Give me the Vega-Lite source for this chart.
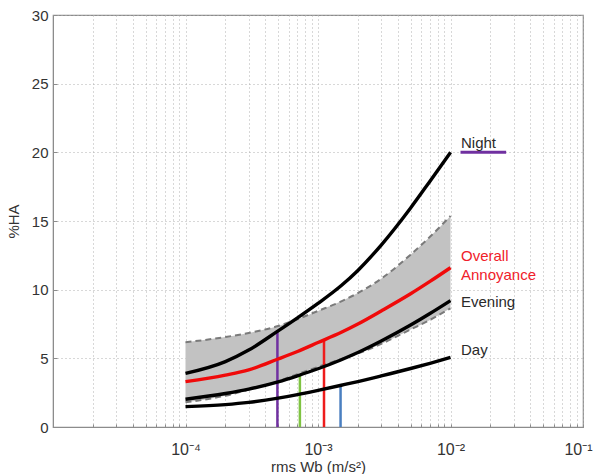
{
  "$schema": "https://vega.github.io/schema/vega-lite/v6.json",
  "autosize": "none",
  "width": 530,
  "height": 412,
  "padding": {"left": 53, "top": 15, "right": 13, "bottom": 47},
  "background": "white",
  "config": {
    "font": "Liberation Sans",
    "view": {"stroke": "#8c8c8c", "strokeWidth": 1.2},
    "axis": {"labelFont": "Liberation Sans", "titleFont": "Liberation Sans", "labelColor": "#333", "titleColor": "#333", "labelFontSize": 15, "titleFontSize": 15, "titleFontWeight": "normal", "domainColor": "#8c8c8c", "tickColor": "#8c8c8c", "gridColor": "#b0b0b0", "gridDash": [1, 3], "gridWidth": 1}
  },
  "datasets": {
    "curves": [
      {"x": 0.0001, "s": "Night", "y": 3.9}, {"x": 0.0002, "s": "Night", "y": 4.76}, {"x": 0.0003, "s": "Night", "y": 5.6}, {"x": 0.0005, "s": "Night", "y": 7.0}, {"x": 0.0007, "s": "Night", "y": 7.95}, {"x": 0.001, "s": "Night", "y": 9.0}, {"x": 0.0015, "s": "Night", "y": 10.3}, {"x": 0.002, "s": "Night", "y": 11.4}, {"x": 0.003, "s": "Night", "y": 13.25}, {"x": 0.005, "s": "Night", "y": 15.95}, {"x": 0.007, "s": "Night", "y": 17.9}, {"x": 0.01, "s": "Night", "y": 20.0},
      {"x": 0.0001, "s": "Evening", "y": 2.02}, {"x": 0.0002, "s": "Evening", "y": 2.44}, {"x": 0.0003, "s": "Evening", "y": 2.76}, {"x": 0.0005, "s": "Evening", "y": 3.29}, {"x": 0.0007, "s": "Evening", "y": 3.73}, {"x": 0.001, "s": "Evening", "y": 4.24}, {"x": 0.0015, "s": "Evening", "y": 4.9}, {"x": 0.002, "s": "Evening", "y": 5.42}, {"x": 0.003, "s": "Evening", "y": 6.26}, {"x": 0.005, "s": "Evening", "y": 7.42}, {"x": 0.007, "s": "Evening", "y": 8.26}, {"x": 0.01, "s": "Evening", "y": 9.2},
      {"x": 0.0001, "s": "Day", "y": 1.48}, {"x": 0.0002, "s": "Day", "y": 1.63}, {"x": 0.0003, "s": "Day", "y": 1.79}, {"x": 0.0005, "s": "Day", "y": 2.1}, {"x": 0.0007, "s": "Day", "y": 2.36}, {"x": 0.001, "s": "Day", "y": 2.67}, {"x": 0.0015, "s": "Day", "y": 3.04}, {"x": 0.002, "s": "Day", "y": 3.31}, {"x": 0.003, "s": "Day", "y": 3.72}, {"x": 0.005, "s": "Day", "y": 4.26}, {"x": 0.007, "s": "Day", "y": 4.64}, {"x": 0.01, "s": "Day", "y": 5.07}
    ],
    "overall": [
      {"x": 0.0001, "y": 3.3}, {"x": 0.0002, "y": 3.78}, {"x": 0.0003, "y": 4.16}, {"x": 0.0005, "y": 4.95}, {"x": 0.0007, "y": 5.5}, {"x": 0.001, "y": 6.15}, {"x": 0.0015, "y": 6.9}, {"x": 0.002, "y": 7.5}, {"x": 0.003, "y": 8.45}, {"x": 0.005, "y": 9.7}, {"x": 0.007, "y": 10.6}, {"x": 0.01, "y": 11.6}
    ],
    "band": [
      {"x": 0.0001, "hi": 6.17, "lo": 1.8}, {"x": 0.0002, "hi": 6.55, "lo": 2.28}, {"x": 0.0003, "hi": 6.85, "lo": 2.72}, {"x": 0.0005, "hi": 7.35, "lo": 3.33}, {"x": 0.0007, "hi": 7.85, "lo": 3.85}, {"x": 0.001, "hi": 8.45, "lo": 4.38}, {"x": 0.0015, "hi": 9.15, "lo": 4.95}, {"x": 0.002, "hi": 9.75, "lo": 5.35}, {"x": 0.003, "hi": 10.8, "lo": 6.05}, {"x": 0.005, "hi": 12.55, "lo": 7.1}, {"x": 0.007, "hi": 13.85, "lo": 7.8}, {"x": 0.01, "hi": 15.37, "lo": 8.64}
    ],
    "vlines": [
      {"x": 0.000494, "bottom": 0, "top": 7.05, "c": "purple"},
      {"x": 0.00073, "bottom": 0, "top": 3.79, "c": "green"},
      {"x": 0.00111, "bottom": 0, "top": 6.35, "c": "red"},
      {"x": 0.00148, "bottom": 0, "top": 3.04, "c": "blue"}
    ],
    "legendline": [{"x": 0.0119, "x2": 0.0263, "y": 20}],
    "labels": [
      {"x": 0.012, "y": 20.7, "t": "Night", "c": "dark", "d": 2},
      {"x": 0.012, "y": 12.45, "t": "Overall", "c": "red", "d": 3},
      {"x": 0.012, "y": 11.1, "t": "Annoyance", "c": "red", "d": 3},
      {"x": 0.012, "y": 9.07, "t": "Evening", "c": "dark", "d": 3},
      {"x": 0.012, "y": 5.64, "t": "Day", "c": "dark", "d": 6}
    ]
  },
  "encoding": {
    "x": {
      "field": "x", "type": "quantitative",
      "scale": {"type": "log", "domain": [0.00001, 0.1], "nice": false},
      "axis": {
        "title": "rms Wb (m/s²)",
        "titlePadding": 2,
        "values": [0.00001, 0.00002, 0.00003, 0.00004, 0.00005, 0.00006, 0.00007, 0.00008, 0.00009, 0.0001, 0.0002, 0.0003, 0.0004, 0.0005, 0.0006, 0.0007, 0.0008, 0.0009, 0.001, 0.002, 0.003, 0.004, 0.005, 0.006, 0.007, 0.008, 0.009, 0.01, 0.02, 0.03, 0.04, 0.05, 0.06, 0.07, 0.08, 0.09, 0.1],
        "labelExpr": "abs(log(datum.value)/LN10 - round(log(datum.value)/LN10)) > 0.01 ? '' : round(log(datum.value)/LN10) == -4 ? '10⁻⁴' : round(log(datum.value)/LN10) == -3 ? '10⁻³' : round(log(datum.value)/LN10) == -2 ? '10⁻²' : round(log(datum.value)/LN10) == -1 ? '10⁻¹' : ''",
        "labelOverlap": false,
        "labelFlush": 2,
        "labelFlushOffset": 9,
        "labelFontSize": 16,
        "tickSize": -3,
        "labelPadding": 17,
        "grid": true
      }
    },
    "y": {
      "type": "quantitative",
      "scale": {"domain": [0, 30], "nice": false},
      "axis": {"title": "%HA", "values": [0, 5, 10, 15, 20, 25, 30], "tickSize": -4, "labelPadding": 9, "titlePadding": 10, "grid": true}
    }
  },
  "resolve": {"scale": {"color": "independent"}},
  "layer": [
    {
      "data": {"name": "band"},
      "mark": {"type": "area", "color": "#c2c2c2", "opacity": 1, "interpolate": "monotone"},
      "encoding": {"y": {"field": "hi", "type": "quantitative"}, "y2": {"field": "lo"}}
    },
    {
      "data": {"name": "band"},
      "transform": [{"fold": ["hi", "lo"], "as": ["edge", "val"]}],
      "mark": {"type": "line", "color": "#7a7a7a", "strokeWidth": 2, "strokeDash": [6, 4], "interpolate": "monotone"},
      "encoding": {"y": {"field": "val", "type": "quantitative"}, "detail": {"field": "edge"}}
    },
    {
      "data": {"name": "vlines"},
      "mark": {"type": "rule", "strokeWidth": 2.5},
      "encoding": {
        "y": {"field": "bottom", "type": "quantitative"},
        "y2": {"field": "top"},
        "color": {"field": "c", "type": "nominal", "legend": null, "scale": {"domain": ["purple", "green", "red", "blue"], "range": ["#7030a0", "#7fc342", "#ee1c1c", "#4a7fc0"]}}
      }
    },
    {
      "data": {"name": "curves"},
      "mark": {"type": "line", "color": "#000000", "strokeWidth": 3.4, "interpolate": "monotone"},
      "encoding": {"y": {"field": "y", "type": "quantitative"}, "detail": {"field": "s"}}
    },
    {
      "data": {"name": "overall"},
      "mark": {"type": "line", "color": "#f00a0a", "strokeWidth": 3.4, "interpolate": "monotone"},
      "encoding": {"y": {"field": "y", "type": "quantitative"}}
    },
    {
      "data": {"name": "legendline"},
      "mark": {"type": "rule", "color": "#7030a0", "strokeWidth": 3},
      "encoding": {"x2": {"field": "x2"}, "y": {"field": "y", "type": "quantitative"}}
    },
    {
      "data": {"name": "labels"},
      "transform": [{"filter": "datum.c == 'dark'"}],
      "mark": {"type": "text", "align": "left", "baseline": "middle", "fontSize": 15, "font": "Liberation Sans", "color": "#2a2a2a"},
      "encoding": {
        "y": {"field": "y", "type": "quantitative"},
        "text": {"field": "t"},
        "xOffset": {"field": "d", "type": "quantitative", "scale": null}
      }
    },
    {
      "data": {"name": "labels"},
      "transform": [{"filter": "datum.c == 'red'"}],
      "mark": {"type": "text", "align": "left", "baseline": "middle", "fontSize": 15, "font": "Liberation Sans", "color": "#f0202a"},
      "encoding": {
        "y": {"field": "y", "type": "quantitative"},
        "text": {"field": "t"},
        "xOffset": {"field": "d", "type": "quantitative", "scale": null}
      }
    }
  ]
}
